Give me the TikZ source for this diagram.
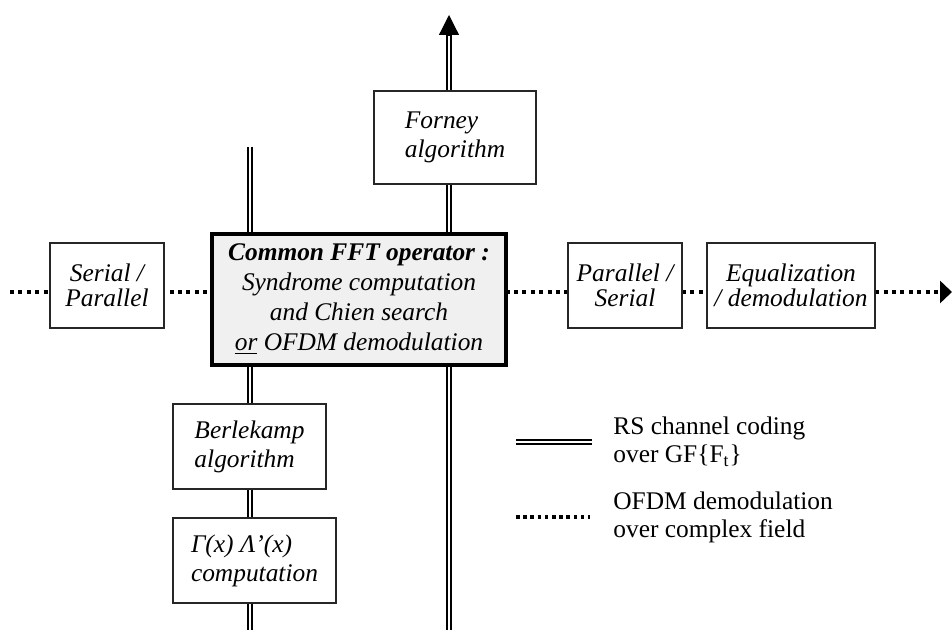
\documentclass[tikz,border=0pt]{standalone}
\usepackage{fontspec}
\setmainfont{Liberation Serif}
\usetikzlibrary{arrows.meta}
\usetikzlibrary{positioning}

\begin{document}
\begin{tikzpicture}[x=0.5pt, y=-0.5pt,
    blk/.style={draw=black!85, line width=0.6pt, fill=white, inner sep=0pt,
      align=center, font=\fontsize{12.7}{12.5}\selectfont\itshape},
    vblk/.style={blk, align=left, font=\fontsize{12.7}{14.5}\selectfont\itshape},
    fftblk/.style={blk, draw=black, line width=2pt, fill=black!6,
      font=\fontsize{12.7}{15}\selectfont\itshape},
    rs/.style={double, line width=0.7pt, double distance=1.3pt},
    ofdm/.style={line width=2pt, dash pattern=on 2pt off 2.2pt},
    legtext/.style={inner sep=0pt, align=left, font=\fontsize{12.7}{14}\selectfont}]
        \useasboundingbox (0,0) rectangle (952,630);
        % signal paths, the blocks are drawn on top of them
        \coordinate (din) at (10,292);
        \coordinate (dout) at (952,292);
        \coordinate (lbot) at (250,630);
        \coordinate (ltop) at (250,147);
        \coordinate (rbot) at (449,630);
        \coordinate (rtip) at (449,35);
        \coordinate (rtop) at (449,15);
        \draw[ofdm, -{Triangle[width=11pt,length=6pt]}] (din) -- (dout);
        \draw[rs] (lbot) -- (ltop);
        \draw[rs] (rbot) -- (rtip);
        \draw[line width=0.6pt, -{Triangle[width=10pt,length=10pt]}] (rtip) -- (rtop);
        % blocks
        \node[blk, minimum width=57pt, minimum height=42.5pt] (serpar) at (107,285.5) {Serial /\\Parallel};
        \node[fftblk, minimum width=147pt, minimum height=65.5pt] (fft) at (359,299.5)
            {\textbf{Common FFT operator :}\\Syndrome computation\\and Chien search\\\underline{or} OFDM demodulation};
        \node[blk, minimum width=57pt, minimum height=42.5pt] (parser) at (625,285.5) {Parallel /\\Serial};
        \node[blk, minimum width=84pt, minimum height=42.5pt] (equal) at (791,285.5) {Equalization\\/ demodulation};
        \node[vblk, minimum width=81pt, minimum height=46.5pt] (forney) at (455,137.5) {Forney\\algorithm};
        \node[vblk, minimum width=76.5pt, minimum height=42.5pt] (berle) at (249.5,446.5) {Berlekamp\\algorithm};
        \node[vblk, minimum width=81.5pt, minimum height=42.5pt] (gamma) at (254.5,560.5) {Γ(x) Λ’(x)\\computation};
        % legend
        \coordinate (rsa) at (516,442);
        \coordinate (rsb) at (592,442);
        \coordinate (ofa) at (516,517);
        \coordinate (ofb) at (590,517);
        \draw[rs] (rsa) -- (rsb);
        \draw[line width=2pt, dash pattern=on 1.8pt off 1.8pt] (ofa) -- (ofb);
        \node[legtext, right=10.5pt of rsb] (rslab) {RS channel coding\\over GF\{F\textsubscript{t}\}};
        \node[legtext, right=11.5pt of ofb] (oflab) {OFDM demodulation\\over complex field};
    \end{tikzpicture}
\end{document}
